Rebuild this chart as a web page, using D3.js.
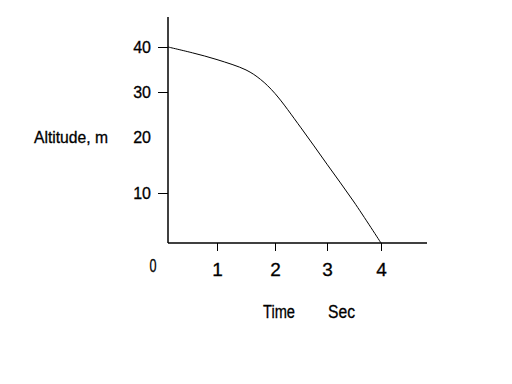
<!DOCTYPE html>
<html>
<head>
<meta charset="utf-8">
<script src="https://cdn.jsdelivr.net/npm/d3@7"></script>
<style>
  body { margin: 0; background: #fff; }
  text { font-family: "Liberation Sans", Arial, sans-serif; font-size: 16px; fill: #000; stroke: #000; stroke-width: 0.3px; }
</style>
</head>
<body>
<div id="chart"></div>
<script>
// values
const time = [0, 0.5, 1, 1.5, 1.75, 2, 2.5, 3, 3.5, 4]
const altitude = [40, 38.7, 37.2, 34.9, 32.8, 29.7, 22.9, 15.7, 8.2, 0]
const xTickValues = [1, 2, 3, 4]
const yTickValues = [10, 20, 30, 40]

const width = 512
const height = 384

const svg = d3.select('#chart')
  .append('svg')
  .attr('width', width)
  .attr('height', height)

// hand drawn axes: the tick spacing is not quite even
const xScale = d3.scaleLinear().domain([0, 1, 2, 3, 4]).range([168, 217, 275, 327, 381])
const yScale = d3.scaleLinear().domain([0, 10, 30, 40]).range([243, 193, 92, 47])

// axis lines
svg.append('line')
  .attr('x1', xScale(0)).attr('x2', 427)
  .attr('y1', yScale(0)).attr('y2', yScale(0))
  .attr('stroke', '#000').attr('stroke-width', 1.5)
svg.append('line')
  .attr('x1', xScale(0)).attr('x2', xScale(0))
  .attr('y1', 17).attr('y2', yScale(0))
  .attr('stroke', '#000').attr('stroke-width', 1.5)

const xAxis = d3.axisBottom(xScale)
  .tickValues(xTickValues)
  .tickFormat(d3.format('d'))
  .tickSize(8)
  .tickPadding(12)

const yAxis = d3.axisLeft(yScale)
  .tickValues(yTickValues)
  .tickFormat(d3.format('d'))
  .tickSize(10)
  .tickPadding(7)

const gx = svg.append('g')
  .attr('transform', `translate(0,${yScale(0)})`)
  .call(xAxis)
const gy = svg.append('g')
  .attr('transform', `translate(${xScale(0)},0)`)
  .call(yAxis)

svg.selectAll('.domain').remove()
svg.selectAll('.tick line').attr('stroke', '#000').attr('stroke-width', 1)
svg.selectAll('.tick text').attr('font-family', null).attr('font-size', null)
gx.selectAll('.tick text').style('font-size', '19px')
// no tick mark at 20 in the original, and its label sits a bit high
const tick20 = gy.selectAll('.tick').filter((d) => d === 20)
tick20.select('line').remove()
tick20.select('text').attr('dy', '0.0em')

// origin label sits left of the axis
svg.append('text')
  .attr('x', xScale(0) - 15)
  .attr('y', yScale(0) + 29)
  .attr('text-anchor', 'middle')
  .style('font-size', '19px')
  .attr('textLength', 7)
  .attr('lengthAdjust', 'spacingAndGlyphs')
  .text('0')

svg.append('path')
  .datum(time.map((t, i) => ({ t: t, v: altitude[i] })))
  .attr('fill', 'none')
  .attr('stroke', '#000')
  .attr('stroke-width', 1)
  .attr('d', d3.line()
    .x((d) => xScale(d.t))
    .y((d) => yScale(d.v))
    .curve(d3.curveCatmullRom.alpha(0.5)))

svg.append('text')
  .attr('x', 34)
  .attr('y', 143)
  .attr('textLength', 74)
  .attr('lengthAdjust', 'spacingAndGlyphs')
  .text('Altitude, m')

svg.append('text')
  .attr('x', 263)
  .attr('y', 318)
  .style('font-size', '18px')
  .attr('textLength', 32)
  .attr('lengthAdjust', 'spacingAndGlyphs')
  .text('Time')

svg.append('text')
  .attr('x', 328)
  .attr('y', 318)
  .style('font-size', '18px')
  .attr('textLength', 27)
  .attr('lengthAdjust', 'spacingAndGlyphs')
  .text('Sec')
</script>
</body>
</html>
